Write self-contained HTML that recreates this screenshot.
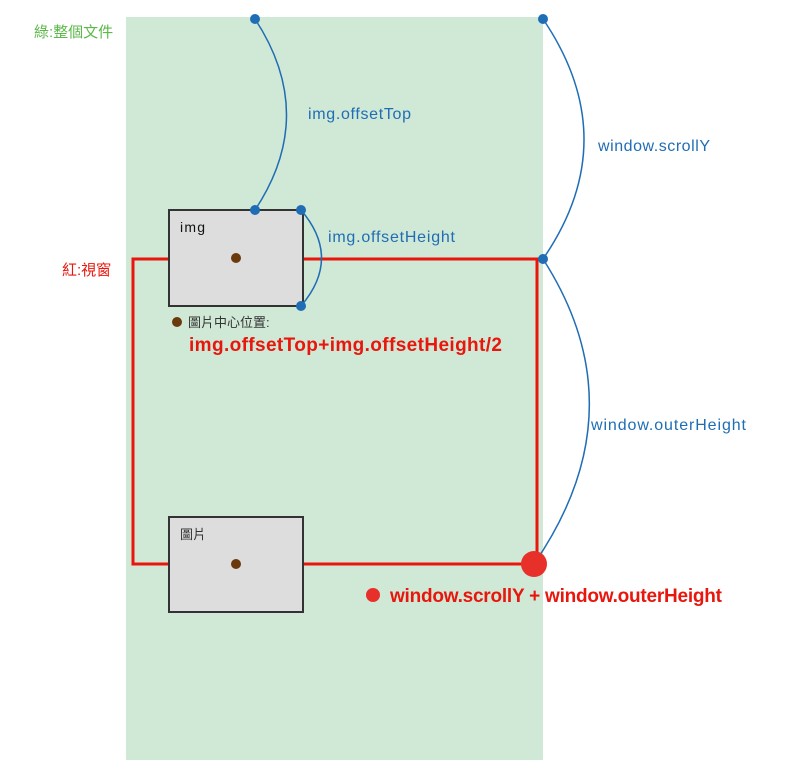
<!DOCTYPE html>
<html><head><meta charset="utf-8"><style>body{margin:0;background:#fff}svg{display:block}text{font-family:"Liberation Sans","Noto Sans CJK TC",sans-serif}</style></head><body>
<svg width="800" height="772" viewBox="0 0 800 772">
<rect x="126" y="17" width="417" height="743" fill="#d0e8d6"/>
<rect x="133" y="259" width="404" height="305" fill="none" stroke="#e8160c" stroke-width="3"/>
<rect x="169" y="210" width="134" height="96" fill="#dcdddc" stroke="#333" stroke-width="2"/>
<rect x="169" y="517" width="134" height="95" fill="#dcdddc" stroke="#333" stroke-width="2"/>
<circle cx="236" cy="258" r="5" fill="#6b3a0c"/>
<circle cx="236" cy="564" r="5" fill="#6b3a0c"/>
<text x="180" y="232" font-size="14" fill="#111" textLength="25">img</text>
<text x="180" y="539" font-size="13" fill="#333">圖片</text>
<g fill="none" stroke="#1f6db5" stroke-width="1.5">
<path d="M255 19 Q318 115 255 210"/>
<path d="M543 19 Q625 140 543 259"/>
<path d="M301 210 Q342 258 301 306"/>
<path d="M543 259 Q640 410 534 564"/>
</g>
<g fill="#1f6db5">
<circle cx="255" cy="19" r="5"/><circle cx="255" cy="210" r="5"/>
<circle cx="543" cy="19" r="5"/><circle cx="543" cy="259" r="5"/>
<circle cx="301" cy="210" r="5"/><circle cx="301" cy="306" r="5"/>
</g>
<circle cx="534" cy="564" r="13" fill="#e8302a"/>
<g fill="#1f6db5" font-size="16">
<text x="308" y="119" textLength="103">img.offsetTop</text>
<text x="598" y="151" textLength="112">window.scrollY</text>
<text x="328" y="242" textLength="127">img.offsetHeight</text>
<text x="591" y="430" textLength="155">window.outerHeight</text>
</g>
<text x="34" y="37" font-size="15" fill="#5cb84a">綠:整個文件</text>
<text x="62" y="275" font-size="15" fill="#e8160c">紅:視窗</text>
<circle cx="177" cy="322" r="5" fill="#6b3a0c"/>
<text x="188" y="327" font-size="13" fill="#333">圖片中心位置:</text>
<text x="189" y="351" font-size="19" fill="#e8160c" font-weight="bold" textLength="313">img.offsetTop+img.offsetHeight/2</text>
<circle cx="373" cy="595" r="7" fill="#e8302a"/>
<text x="390" y="602" font-size="19" fill="#e8160c" font-weight="bold" textLength="332">window.scrollY + window.outerHeight</text>
</svg>
</body></html>
